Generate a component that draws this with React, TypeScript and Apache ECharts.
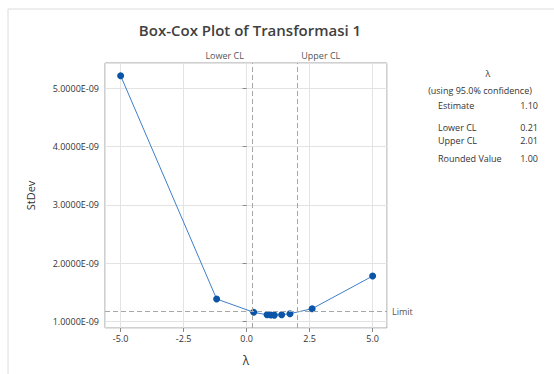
import React, { useEffect, useRef } from "react";
import * as echarts from "echarts";

const lambdas = [-5, -1.19, 0.28, 0.81, 0.96, 1.1, 1.39, 1.72, 2.6, 5];
const stdevs = [5.216e-9, 1.389e-9, 1.161e-9, 1.118e-9, 1.114e-9, 1.113e-9, 1.12e-9, 1.137e-9, 1.223e-9, 1.782e-9];
const lowerCL = 0.21;
const upperCL = 2.01;
const limitValue = 1.178e-9;
const statLabels = ["Estimate", "Lower CL", "Upper CL", "Rounded Value"];
const statValues = ["1.10", "0.21", "2.01", "1.00"];
const statRowsY = [105, 127, 140, 158];

const X_MIN = -5.62;
const X_MAX = 5.57;
const Y_MIN = 0.892e-9;
const Y_MAX = 5.433e-9;

const FONT = "'Open Sans', 'Noto Sans', sans-serif";

export default function App() {
  const ref = useRef<HTMLDivElement>(null);
  useEffect(() => {
    if (!ref.current) return;
    const chart = echarts.init(ref.current, undefined, { renderer: "svg" });
    const points = lambdas.map((l, i) => [l, stdevs[i]]);
    const graphics: any[] = [
      {
        type: "rect",
        shape: { x: 8, y: 9, width: 700, height: 500 },
        style: { fill: "none", stroke: "#dcdcdc", lineWidth: 1 },
        silent: true,
      },
      {
        type: "text",
        x: 488,
        y: 73,
        style: { text: "λ", fontSize: 9, fontFamily: FONT, fill: "#333", textAlign: "center", textVerticalAlign: "middle" },
      },
      {
        type: "text",
        x: 480,
        y: 90,
        style: { text: "(using 95.0% confidence)", fontSize: 9, fontFamily: FONT, fill: "#333", textAlign: "center", textVerticalAlign: "middle" },
      },
    ];
    statLabels.forEach((lab, i) => {
      graphics.push({
        type: "text",
        x: 438,
        y: statRowsY[i],
        style: { text: lab, fontSize: 9, fontFamily: FONT, fill: "#333", textAlign: "left", textVerticalAlign: "middle" },
      });
      graphics.push({
        type: "text",
        x: 538,
        y: statRowsY[i],
        style: { text: statValues[i], fontSize: 9, fontFamily: FONT, fill: "#333", textAlign: "right", textVerticalAlign: "middle" },
      });
    });

    const labelStyle = { fontSize: 9, color: "#555", fontFamily: FONT };

    chart.setOption({
      animation: false,
      backgroundColor: "#fff",
      title: {
        text: "Box-Cox Plot of Transformasi 1",
        left: 245,
        top: 17,
        textAlign: "center",
        textStyle: { fontSize: 15, fontWeight: 600, color: "#404040", fontFamily: FONT },
      },
      grid: { left: 105, top: 63, right: 167, bottom: 46, show: true, borderColor: "#a0a0a0", borderWidth: 1 },
      xAxis: {
        type: "value",
        min: X_MIN,
        max: X_MAX,
        minInterval: 2.5,
        maxInterval: 2.5,
        name: "λ",
        nameLocation: "middle",
        nameGap: 26,
        nameTextStyle: { fontSize: 12, color: "#333", fontFamily: FONT },
        axisLine: { show: false },
        axisTick: { show: true, length: 4, lineStyle: { color: "#888" } },
        axisLabel: {
          showMinLabel: false,
          showMaxLabel: false,
          fontSize: 9,
          color: "#333",
          fontFamily: FONT,
          margin: 6,
          formatter: (v: number) => v.toFixed(1),
        },
        splitLine: { show: true, lineStyle: { color: "#e3e3e3" } },
      },
      yAxis: {
        type: "value",
        min: Y_MIN,
        max: Y_MAX,
        minInterval: 1e-9,
        maxInterval: 1e-9,
        name: "StDev",
        nameLocation: "middle",
        nameGap: 69,
        nameTextStyle: { fontSize: 11, color: "#333", fontFamily: FONT },
        axisLine: { show: false },
        axisTick: { show: true, length: 4, lineStyle: { color: "#888" } },
        axisLabel: {
          showMinLabel: false,
          showMaxLabel: false,
          fontSize: 9,
          color: "#333",
          fontFamily: FONT,
          margin: 6,
          formatter: (v: number) => (v / 1e-9).toFixed(4) + "E-09",
        },
        splitLine: { show: true, lineStyle: { color: "#e3e3e3" } },
      },
      series: [
        {
          type: "line",
          data: points,
          symbol: "circle",
          symbolSize: 7,
          z: 3,
          itemStyle: { color: "#0a55a8" },
          lineStyle: { color: "#3f7fc8", width: 1 },
          markLine: {
            silent: true,
            symbol: ["none", "none"],
            lineStyle: { type: [5, 3], color: "#a6a6a6", width: 1 },
            data: [
              {
                xAxis: lowerCL,
                label: { show: true, formatter: "Lower CL", position: "end", align: "right", offset: [-8, 0], distance: 3, ...labelStyle },
              },
              {
                xAxis: upperCL,
                label: { show: true, formatter: "Upper CL", position: "end", align: "left", offset: [4, 0], distance: 3, ...labelStyle },
              },
              [
                {
                  coord: [X_MIN, limitValue],
                  label: { show: true, formatter: "Limit", position: "end", distance: 5, ...labelStyle },
                },
                { coord: [X_MAX, limitValue] },
              ],
            ],
          },
        },
      ],
      graphic: graphics,
    });
    return () => chart.dispose();
  }, []);
  return <div ref={ref} style={{ width: 554, height: 374, position: "absolute", left: 0, top: 0 }} />;
}
